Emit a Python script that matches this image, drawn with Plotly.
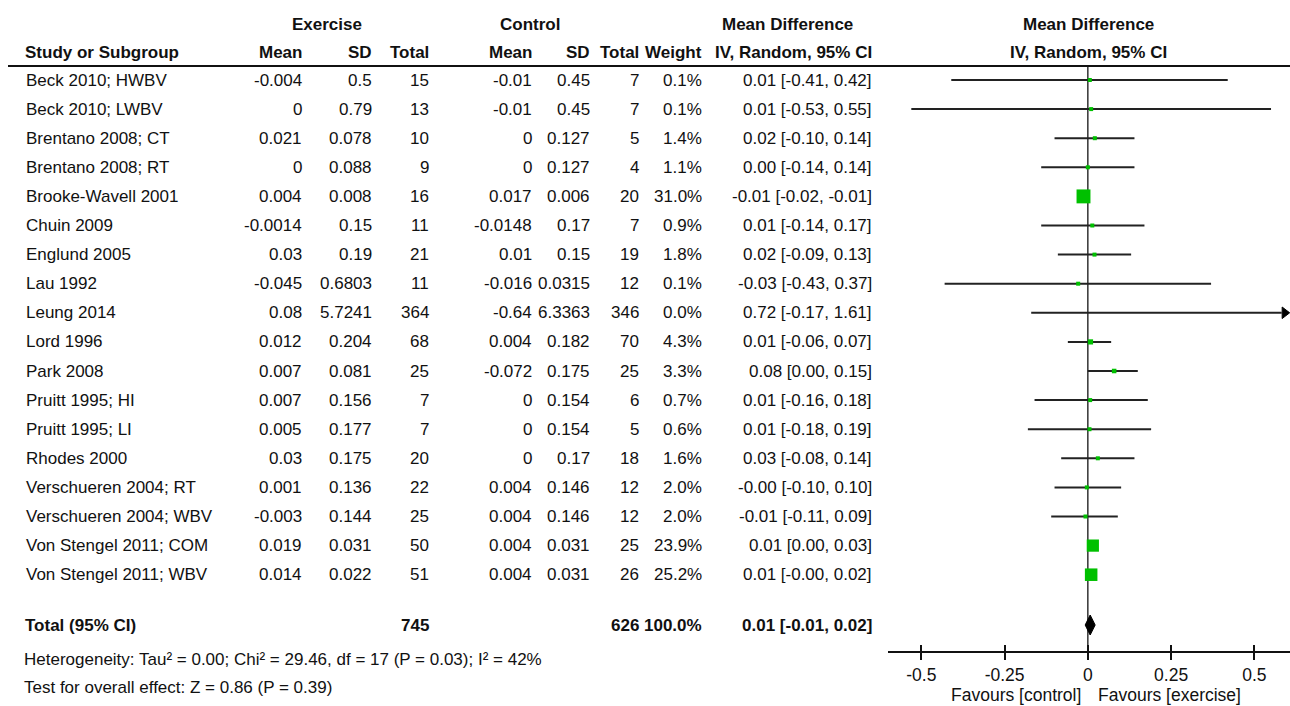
import math
import plotly.graph_objects as go

# ---------------- data ----------------
studies = ["Beck 2010; HWBV", "Beck 2010; LWBV", "Brentano 2008; CT", "Brentano 2008; RT",
           "Brooke-Wavell 2001", "Chuin 2009", "Englund 2005", "Lau 1992", "Leung 2014",
           "Lord 1996", "Park 2008", "Pruitt 1995; HI", "Pruitt 1995; LI", "Rhodes 2000",
           "Verschueren 2004; RT", "Verschueren 2004; WBV", "Von Stengel 2011; COM",
           "Von Stengel 2011; WBV"]
ex_mean = [-0.004, 0, 0.021, 0, 0.004, -0.0014, 0.03, -0.045, 0.08, 0.012, 0.007, 0.007,
           0.005, 0.03, 0.001, -0.003, 0.019, 0.014]
ex_sd = [0.5, 0.79, 0.078, 0.088, 0.008, 0.15, 0.19, 0.6803, 5.7241, 0.204, 0.081, 0.156,
         0.177, 0.175, 0.136, 0.144, 0.031, 0.022]
ex_total = [15, 13, 10, 9, 16, 11, 21, 11, 364, 68, 25, 7, 7, 20, 22, 25, 50, 51]
ct_mean = [-0.01, -0.01, 0, 0, 0.017, -0.0148, 0.01, -0.016, -0.64, 0.004, -0.072, 0, 0, 0,
           0.004, 0.004, 0.004, 0.004]
ct_sd = [0.45, 0.45, 0.127, 0.127, 0.006, 0.17, 0.15, 0.0315, 6.3363, 0.182, 0.175, 0.154,
         0.154, 0.17, 0.146, 0.146, 0.031, 0.031]
ct_total = [7, 7, 5, 4, 20, 7, 19, 12, 346, 70, 25, 6, 5, 18, 12, 12, 25, 26]
weight = [0.1, 0.1, 1.4, 1.1, 31.0, 0.9, 1.8, 0.1, 0.0, 4.3, 3.3, 0.7, 0.6, 1.6, 2.0, 2.0,
          23.9, 25.2]
md = [0.006, 0.01, 0.021, 0.0, -0.013, 0.0134, 0.02, -0.029, 0.72, 0.008, 0.079, 0.007,
      0.005, 0.03, -0.003, -0.007, 0.015, 0.01]
ci_lo = [-0.41, -0.53, -0.10, -0.14, -0.02, -0.14, -0.09, -0.43, -0.17, -0.06, 0.00, -0.16,
         -0.18, -0.08, -0.10, -0.11, 0.00, -0.00]
ci_hi = [0.42, 0.55, 0.14, 0.14, -0.01, 0.17, 0.13, 0.37, 1.61, 0.07, 0.15, 0.18, 0.19,
         0.14, 0.10, 0.09, 0.03, 0.02]
ci_text = ["0.01 [-0.41, 0.42]", "0.01 [-0.53, 0.55]", "0.02 [-0.10, 0.14]",
           "0.00 [-0.14, 0.14]", "-0.01 [-0.02, -0.01]", "0.01 [-0.14, 0.17]",
           "0.02 [-0.09, 0.13]", "-0.03 [-0.43, 0.37]", "0.72 [-0.17, 1.61]",
           "0.01 [-0.06, 0.07]", "0.08 [0.00, 0.15]", "0.01 [-0.16, 0.18]",
           "0.01 [-0.18, 0.19]", "0.03 [-0.08, 0.14]", "-0.00 [-0.10, 0.10]",
           "-0.01 [-0.11, 0.09]", "0.01 [0.00, 0.03]", "0.01 [-0.00, 0.02]"]
total_ex = 745
total_ct = 626
total_weight = "100.0%"
total_md, total_lo, total_hi = 0.007, -0.008, 0.022
total_text = "0.01 [-0.01, 0.02]"
heterogeneity = "Heterogeneity: Tau² = 0.00; Chi² = 29.46, df = 17 (P = 0.03); I² = 42%"
overall = "Test for overall effect: Z = 0.86 (P = 0.39)"
tick_vals = [-0.5, -0.25, 0, 0.25, 0.5]
tick_text = ["-0.5", "-0.25", "0", "0.25", "0.5"]
x_range = [-0.6, 0.607]

# ---------------- layout helpers ----------------
W, H = 1290, 706
FONT = "Liberation Sans, Arial, sans-serif"
TXT = "#111111"
FS = 17
row0, dy = 80, 29.1
rows = [row0 + dy * i for i in range(len(studies))]
y_total = 625
y_het = 659
y_test = 687
y_hdr1, y_hdr2 = 24, 52
y_top_line = 66
y_axis = 652


def px(xp):
    return xp / W


fig = go.Figure()
ann = []


def add_text(x, y, text, anchor="right", bold=False, size=FS, xref="paper"):
    t = f"<b>{text}</b>" if bold else text
    ann.append(dict(x=px(x) if xref == "paper" else x, y=y, xref=xref, yref="y", text=t,
                    showarrow=False, xanchor=anchor, yanchor="middle",
                    font=dict(family=FONT, size=size, color=TXT)))


col_right = dict(ex_mean=304, ex_sd=374, ex_total=431, ct_mean=534, ct_sd=592,
                 ct_total=641, weight=704, ci=874)

# headers
add_text(327, y_hdr1, "Exercise", "center", True)
add_text(530, y_hdr1, "Control", "center", True)
add_text(787, y_hdr1, "Mean Difference", "center", True)
add_text(1088, y_hdr1, "Mean Difference", "center", True)
add_text(23, y_hdr2, "Study or Subgroup", "left", True)
add_text(col_right["ex_mean"], y_hdr2, "Mean", bold=True)
add_text(col_right["ex_sd"], y_hdr2, "SD", bold=True)
add_text(col_right["ex_total"], y_hdr2, "Total", bold=True)
add_text(col_right["ct_mean"], y_hdr2, "Mean", bold=True)
add_text(col_right["ct_sd"], y_hdr2, "SD", bold=True)
add_text(col_right["ct_total"], y_hdr2, "Total", bold=True)
add_text(col_right["weight"], y_hdr2, "Weight", bold=True)
add_text(col_right["ci"], y_hdr2, "IV, Random, 95% CI", bold=True)
add_text(1088, y_hdr2, "IV, Random, 95% CI", "center", True)

for i, y in enumerate(rows):
    add_text(24, y, studies[i], "left")
    add_text(col_right["ex_mean"], y, str(ex_mean[i]))
    add_text(col_right["ex_sd"], y, str(ex_sd[i]))
    add_text(col_right["ex_total"], y, str(ex_total[i]))
    add_text(col_right["ct_mean"], y, str(ct_mean[i]))
    add_text(col_right["ct_sd"], y, str(ct_sd[i]))
    add_text(col_right["ct_total"], y, str(ct_total[i]))
    add_text(col_right["weight"], y, f"{weight[i]:.1f}%")
    add_text(col_right["ci"], y, ci_text[i])

add_text(23, y_total, "Total (95% CI)", "left", True)
add_text(col_right["ex_total"], y_total, str(total_ex), bold=True)
add_text(col_right["ct_total"], y_total, str(total_ct), bold=True)
add_text(col_right["weight"], y_total, total_weight, bold=True)
add_text(col_right["ci"], y_total, total_text, bold=True)
add_text(22, y_het, heterogeneity, "left")
add_text(22, y_test, overall, "left")

# favours labels
add_text(-0.014, 695, "Favours [control]", "right", xref="x", size=17.5)
add_text(0.024, 695, "Favours [exercise]", "left", xref="x", size=17.5)

# zero line
fig.add_trace(go.Scatter(x=[0, 0], y=[y_top_line, y_axis], mode="lines",
                         line=dict(color="#333333", width=1.5), hoverinfo="skip",
                         showlegend=False))

# CI lines (clipped to the axis range)
x_clip = x_range[1] - 0.025
lx, ly = [], []
for i, y in enumerate(rows):
    lx += [ci_lo[i], min(ci_hi[i], x_clip), None]
    ly += [y, y, None]
fig.add_trace(go.Scatter(x=lx, y=ly, mode="lines", line=dict(color="#222222", width=2),
                         hoverinfo="skip", showlegend=False))

# arrow heads for truncated CIs
ar_x = [x_range[1] - 0.016 for i in range(len(rows)) if ci_hi[i] > x_clip]
ar_y = [rows[i] for i in range(len(rows)) if ci_hi[i] > x_clip]
fig.add_trace(go.Scatter(x=ar_x, y=ar_y, mode="markers", cliponaxis=False,
                         marker=dict(symbol="triangle-right", size=10, color="#000000",
                                     opacity=1, line=dict(width=1, color="#000000")),
                         hoverinfo="skip", showlegend=False))

# study markers
fig.add_trace(go.Scatter(x=md, y=rows, mode="markers",
                         marker=dict(symbol="square", color="#00c000", opacity=1,
                                     size=[max(4, 2.5 * math.sqrt(w)) for w in weight],
                                     line=dict(width=0)),
                         hoverinfo="skip", showlegend=False))

# total diamond
hh = 10
fig.add_trace(go.Scatter(x=[total_lo, total_md, total_hi, total_md, total_lo],
                         y=[y_total, y_total - hh, y_total, y_total + hh, y_total],
                         mode="lines", fill="toself", fillcolor="#000000",
                         line=dict(color="#000000", width=1), hoverinfo="skip",
                         showlegend=False))

# top header rule
fig.add_shape(type="line", xref="paper", yref="y", x0=px(8), x1=1, y0=y_top_line,
              y1=y_top_line, line=dict(color="#111111", width=2))

axis_pos = (H - y_axis) / H
fig.update_layout(
    width=W, height=H, margin=dict(l=0, r=0, t=0, b=0),
    paper_bgcolor="white", plot_bgcolor="white",
    annotations=ann,
    xaxis=dict(domain=[px(888), 1], range=x_range, anchor="free", position=axis_pos,
               tickvals=tick_vals, ticktext=tick_text, ticks="outside", ticklen=7,
               tickwidth=2, tickcolor="#111111", showline=True, linecolor="#111111",
               linewidth=2, showgrid=False, zeroline=False,
               tickfont=dict(family=FONT, size=17.5, color=TXT)),
    xaxis2=dict(domain=[px(888), 1], range=x_range, anchor="free", position=axis_pos,
                overlaying="x", tickvals=tick_vals, ticks="inside", ticklen=7,
                tickwidth=2, tickcolor="#111111", showticklabels=False, showline=False,
                showgrid=False, zeroline=False),
    yaxis=dict(domain=[0, 1], range=[H, 0], visible=False, showgrid=False),
)
# invisible trace to activate xaxis2
fig.add_trace(go.Scatter(x=[0], y=[y_axis], xaxis="x2", mode="markers",
                         marker=dict(size=0.1, opacity=0), hoverinfo="skip",
                         showlegend=False))

fig.write_html(
    "out.html",
    config={"displayModeBar": False},
    post_script="document.body.style.margin='0';document.body.style.overflow='hidden';",
)
